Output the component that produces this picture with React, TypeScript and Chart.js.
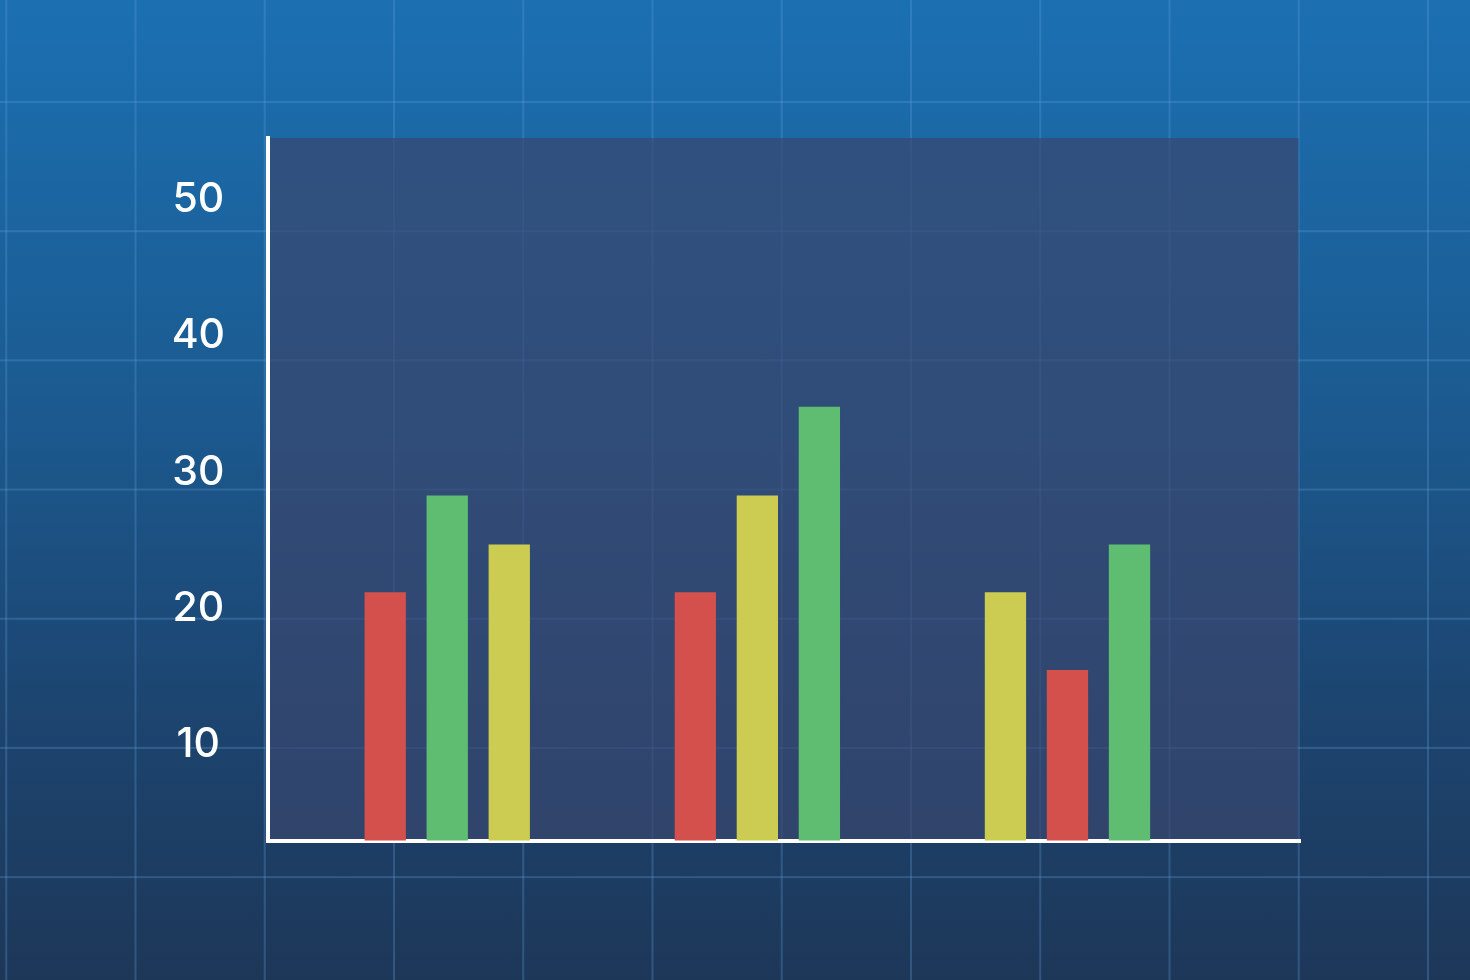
import React, { useEffect, useRef } from "react";
import { Chart, registerables } from "chart.js";

Chart.register(...registerables);

// ---- data ----
const categories = ["Group A", "Group B", "Group C"];
const groupPositions = [1, 2, 3];
const series1 = [21.2, 21.2, 21.2];
const series2 = [28.3, 28.3, 15.5];
const series3 = [24.7, 34.8, 24.7];
const yTickValues = [10, 20, 30, 40, 50];

// ---- colours ----
const RED = "#d3504d";
const GREEN = "#5fbd71";
const YELLOW = "#cccb52";
const series1Colors = [RED, RED, YELLOW];
const series2Colors = [GREEN, YELLOW, RED];
const series3Colors = [YELLOW, GREEN, GREEN];
const PANEL = "rgba(57,71,111,0.7)";
const GRIDLINE = "rgba(95,155,220,0.3)";

export default function App() {
  const ref = useRef<HTMLCanvasElement>(null);

  useEffect(() => {
    const panelPlugin = {
      id: "panel",
      beforeDraw(chart: any) {
        const { ctx, chartArea: a } = chart;
        ctx.save();
        ctx.fillStyle = PANEL;
        ctx.fillRect(a.left, a.top, a.right - a.left, a.bottom - a.top);
        ctx.restore();
      },
    };

    const mk = (label: string, values: number[], colors: string[]) => ({
      label,
      data: groupPositions.map((x, i) => ({ x, y: values[i] })),
      backgroundColor: colors,
      borderWidth: 0,
      categoryPercentage: 0.6,
      barPercentage: 0.666,
    });

    const chart = new Chart(ref.current as HTMLCanvasElement, {
      type: "bar",
      data: {
        labels: categories,
        datasets: [
          mk("Series 1", series1, series1Colors),
          mk("Series 2", series2, series2Colors),
          mk("Series 3", series3, series3Colors),
        ] as any,
      },
      options: {
        animation: false,
        responsive: false,
        devicePixelRatio: 1,
        layout: { padding: { left: 0, top: 138, right: 171.5, bottom: 139.5 } },
        plugins: { legend: { display: false }, tooltip: { enabled: false } },
        scales: {
          x: {
            type: "linear",
            offset: false,
            min: 0.422,
            max: 3.745,
            afterBuildTicks: (s: any) => {
              s.ticks = groupPositions.map((v) => ({ value: v }));
            },
            ticks: { display: false },
            grid: { display: false, drawTicks: false, offset: false, lineWidth: 4 },
            border: { display: true, color: "#ffffff", width: 4 },
          },
          y: {
            type: "linear",
            min: 3,
            max: 54.5,
            afterBuildTicks: (s: any) => {
              s.ticks = yTickValues.map((v) => ({ value: v }));
            },
            afterFit: (s: any) => {
              s.width = 268;
            },
            ticks: {
              color: "#ffffff",
              font: { family: "Inter", size: 41, weight: 500 },
              padding: 43,
              crossAlign: "center",
            },
            grid: { display: false, drawTicks: false, lineWidth: 4 },
            border: { display: true, color: "#ffffff", width: 4 },
          },
        },
      } as any,
      plugins: [panelPlugin],
    });
    return () => chart.destroy();
  }, []);

  return (
    <div
      style={{
        position: "absolute",
        left: 0,
        top: 0,
        width: 1470,
        height: 980,
        overflow: "hidden",
        backgroundImage: `linear-gradient(to right, ${GRIDLINE} 2px, transparent 2px), linear-gradient(to bottom, ${GRIDLINE} 2px, transparent 2px), linear-gradient(to bottom, #1b70b2 0%, #1b5b91 40%, #1c4672 70%, #1d3758 100%)`,
        backgroundSize: "129.25px 129.2px, 129.25px 129.2px, 100% 100%",
        backgroundPosition: "134.5px 0px, 0px 101px, 0px 0px",
      }}
    >
      <canvas
        ref={ref}
        width={1470}
        height={980}
        style={{ position: "absolute", left: 0, top: 0, width: 1470, height: 980 }}
      />
    </div>
  );
}
